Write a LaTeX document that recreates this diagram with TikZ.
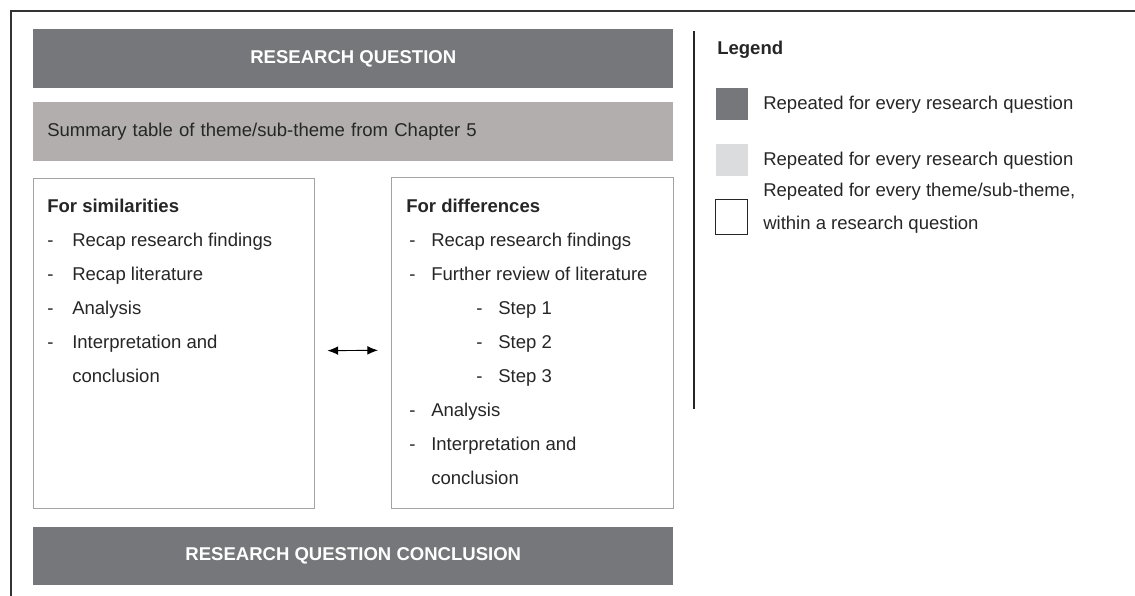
\documentclass[tikz,border=0pt]{standalone}
\usepackage{fontspec}
\setmainfont{Liberation Sans}
\usepackage{tikz}
\usetikzlibrary{arrows.meta, positioning}
\definecolor{barGray}{HTML}{76777B}
\definecolor{summaryGray}{HTML}{B1AEAD}
\definecolor{paleGray}{HTML}{DBDCDE}
\definecolor{edgeGray}{HTML}{A3A3A3}
\definecolor{inkGray}{HTML}{262626}

\begin{document}
\begin{tikzpicture}[
    x=0.75pt, y=-0.75pt,
    font=\fontsize{13.9}{16}\selectfont,
    bar/.style={rectangle, fill=barGray, text=white, font=\fontsize{13.9}{16}\selectfont\bfseries, minimum width=480pt, minimum height=44pt, inner sep=0pt},
    summary/.style={rectangle, fill=summaryGray, text=inkGray, text width=459pt, inner xsep=10.5pt, minimum height=44.25pt, align=left},
    panel/.style={rectangle, draw=edgeGray, line width=1.1pt, fill=white, inner sep=0pt},
    heading/.style={anchor=base west, inner sep=0pt, text=inkGray, font=\fontsize{13.9}{16}\selectfont\bfseries},
    item/.style={anchor=base west, inner sep=0pt, text=inkGray},
    swatch/.style={rectangle, minimum size=24pt, inner sep=0pt},
    note/.style={anchor=west, inner sep=0pt, text=inkGray, align=left, font=\fontsize{13.9}{24.75}\selectfont},
    twoway/.style={{Latex[length=8pt,width=6.5pt]}-{Latex[length=8pt,width=6.5pt]}, line width=0.7pt, black}
]
\useasboundingbox (0,0) rectangle (1135,596);

% Frame
\draw[line width=1pt, black!80] (11,600) -- (11,11) -- (1140,11);

% Nodes
\node[bar, anchor=north west] (rq) at (33,29) {RESEARCH QUESTION};
\node[summary, anchor=north west] (summary) at (33,102) {Summary table of theme/sub-theme from Chapter 5};

\node[panel, anchor=north west, minimum width=210.75pt, minimum height=247.5pt] (sim) at (33,178) {};
\node[panel, anchor=north west, minimum width=211.5pt, minimum height=248.25pt] (diff) at (391,177) {};

\node[bar, anchor=north west, minimum height=43.5pt] (rqc) at (33,527) {RESEARCH QUESTION CONCLUSION};

% Similarities list
\node[heading] (simHead) at (47,212) {For similarities};
\node[item] (simDash1) at (47,246) {-};
\node[item] (sim1) at (72,246) {Recap research findings};
\node[item] (simDash2) at (47,280) {-};
\node[item] (sim2) at (72,280) {Recap literature};
\node[item] (simDash3) at (47,314) {-};
\node[item] (sim3) at (72,314) {Analysis};
\node[item] (simDash4) at (47,348) {-};
\node[item] (sim4) at (72,348) {Interpretation and};
\node[item] (sim5) at (72,382) {conclusion};

% Differences list
\node[heading] (diffHead) at (406,212) {For differences};
\node[item] (diffDash1) at (409,246) {-};
\node[item] (diff1) at (431,246) {Recap research findings};
\node[item] (diffDash2) at (409,280) {-};
\node[item] (diff2) at (431,280) {Further review of literature};
\node[item] (stepDash1) at (476,314) {-};
\node[item] (step1) at (498,314) {Step 1};
\node[item] (stepDash2) at (476,348) {-};
\node[item] (step2) at (498,348) {Step 2};
\node[item] (stepDash3) at (476,382) {-};
\node[item] (step3) at (498,382) {Step 3};
\node[item] (diffDash3) at (409,416) {-};
\node[item] (diff3) at (431,416) {Analysis};
\node[item] (diffDash4) at (409,450) {-};
\node[item] (diff4) at (431,450) {Interpretation and};
\node[item] (diff5) at (431,484) {conclusion};

% Legend
\draw[line width=0.8pt, black!85] (694,31) -- (694,409);
\node[heading, anchor=west] (legend) at (717,50) {Legend};
\node[swatch, fill=barGray] (keyDark) at (732,103.5) {};
\node[swatch, fill=paleGray] (keyPale) at (732,160) {};
\node[swatch, draw=black!85, line width=1.1pt, minimum height=26pt] (keyWhite) at (731.5,217) {};
\node[note] (noteDark) at (763,105) {Repeated for every research question};
\node[note] (notePale) at (763,161) {Repeated for every research question};
\node[note] (noteWhite) at (763,208) {Repeated for every theme/sub-theme,\\within a research question};

% Edges
\draw[twoway, shorten <=9pt, shorten >=9.75pt] ([yshift=-5.25pt]sim.east) -- ([yshift=-5.25pt]diff.west);

\end{tikzpicture}
\end{document}
